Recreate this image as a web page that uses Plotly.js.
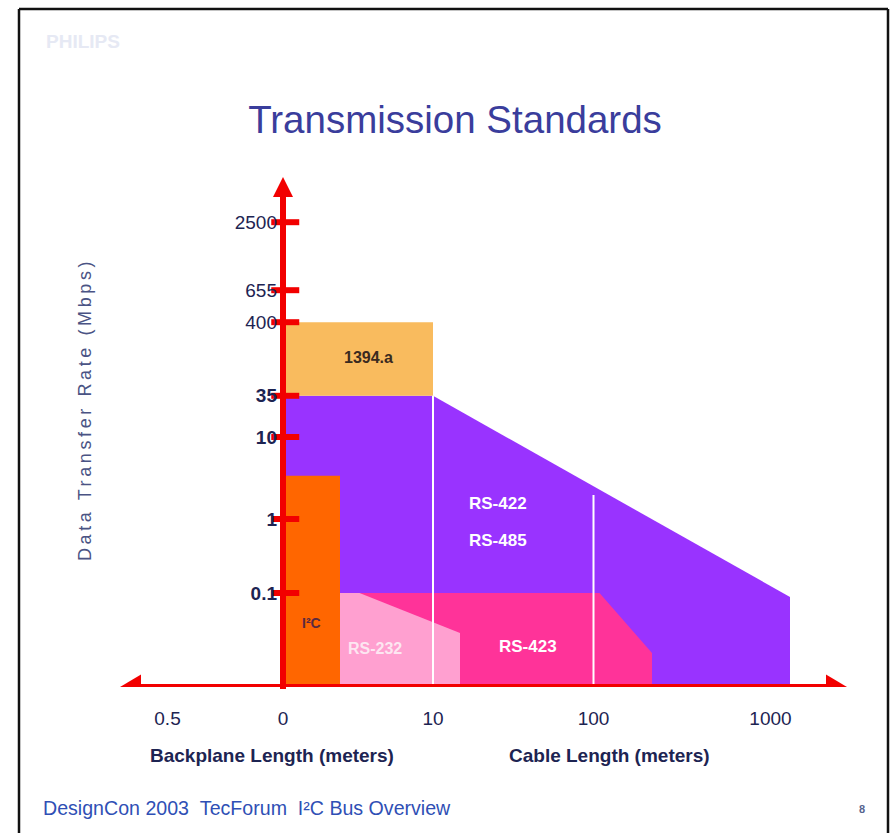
<!DOCTYPE html>
<html>
<head>
<meta charset="utf-8">
<script src="https://cdn.plot.ly/plotly-3.0.1.min.js"></script>
<style>
  html,body{margin:0;padding:0;background:#fff;}
  #chart{width:892px;height:833px;}
  .annotation[data-index="0"] text{letter-spacing:3.6px;}
</style>
</head>
<body>
<div id="chart"></div>
<script>
// ---- Schematic axis scales (position units along each drawn axis) ----
const yTickText = ['<b>0.1</b>', '<b>1</b>', '<b>10</b>', '<b>35</b>', '400', '655', '2500'];
const yTickPos  = [1.175, 2.1, 3.125, 3.64, 4.56, 4.96, 5.81];
const xTickText = ['0.5', '0', '10', '100', '1000'];
const xTickPos  = [-0.77, 0, 1, 2.07, 3.25];

// ---- Regions (schematic units) ----
const rs485X = [0, 0, 1, 3.38, 3.38];
const rs485Y = [0, 3.64, 3.64, 1.125, 0];
const fwX = [0, 0, 1, 1];
const fwY = [3.64, 4.56, 4.56, 3.64];
const rs423X = [0.38, 0.38, 2.11, 2.46, 2.46];
const rs423Y = [0, 1.175, 1.175, 0.425, 0];
const rs232X = [0.38, 0.38, 0.51, 1.18, 1.18];
const rs232Y = [0, 1.175, 1.175, 0.675, 0];
const i2cX = [0, 0, 0.38, 0.38];
const i2cY = [0, 2.64, 2.64, 0];
const dividerX = [1, 2.07];
const dividerTop = [3.64, 2.4];

const regionNames = ['1394.a', 'RS-422', 'RS-485', 'RS-423', 'RS-232', 'I²C'];
const regionLabelX = [0.567, 1.433, 1.433, 1.633, 0.613, 0.187];
const regionLabelY = [4.125, 2.3, 1.8375, 0.5125, 0.4875, 0.8];
const regionLabelColor = ['#3a2a20', '#ffffff', '#ffffff', '#ffffff', '#fde6f1', '#5a2a40'];
const regionLabelSize = [16, 17, 17, 17, 16, 14];

// ---- Layout geometry ----
const L = 120, T = 177, W = 727, H = 510;
const px = x => (x - L) / W;
const py = y => (T + H - y) / H;
const SANS = "'Liberation Sans', Arial, sans-serif";
const RED = '#f20000';
const NAVY = '#1d2452';

function poly(xs, ys, color) {
  return {x: xs.concat([xs[0]]), y: ys.concat([ys[0]]), type: 'scatter', mode: 'lines',
          fill: 'toself', fillcolor: color, line: {width: 0, color: color}, hoverinfo: 'skip'};
}

const traces = [
  poly(rs485X, rs485Y, '#9933ff'),
  poly(fwX, fwY, '#f9bb5e'),
  poly(rs423X, rs423Y, '#ff3399'),
  poly(rs232X, rs232Y, '#ffa0d0'),
  poly(i2cX, i2cY, '#ff6600'),
];
dividerX.forEach((dx, i) => {
  traces.push({x: [dx, dx], y: [0, dividerTop[i]], type: 'scatter', mode: 'lines',
               line: {color: '#ffffff', width: 2}, hoverinfo: 'skip'});
});

const shapes = [
  // axes
  {type: 'line', xref: 'paper', yref: 'y', x0: 0.02, x1: 0.98, y0: 0, y1: 0, line: {color: RED, width: 6}, layer: 'above'},
  {type: 'line', xref: 'x', yref: 'paper', x0: 0, x1: 0, y0: -0.004, y1: 0.97, line: {color: RED, width: 6}, layer: 'above'},
  // arrow heads
  {type: 'path', xref: 'paper', yref: 'y', xsizemode: 'pixel', ysizemode: 'pixel', xanchor: 0, yanchor: 0,
   path: 'M0,0 L21,12.5 L21,-12.5 Z', fillcolor: RED, line: {width: 0}, layer: 'above'},
  {type: 'path', xref: 'paper', yref: 'y', xsizemode: 'pixel', ysizemode: 'pixel', xanchor: 1, yanchor: 0,
   path: 'M0,0 L-21,12.5 L-21,-12.5 Z', fillcolor: RED, line: {width: 0}, layer: 'above'},
  {type: 'path', xref: 'x', yref: 'paper', xsizemode: 'pixel', ysizemode: 'pixel', xanchor: 0, yanchor: 1,
   path: 'M0,0 L-10,-20 L10,-20 Z', fillcolor: RED, line: {width: 0}, layer: 'above'},
  // slide frame
  {type: 'line', xref: 'paper', yref: 'paper', x0: px(19), x1: px(19), y0: py(9), y1: py(840), line: {color: '#111', width: 2.5}},
  {type: 'line', xref: 'paper', yref: 'paper', x0: px(19), x1: px(888), y0: py(9), y1: py(9), line: {color: '#111', width: 2.5}},
  {type: 'line', xref: 'paper', yref: 'paper', x0: px(888), x1: px(888), y0: py(9), y1: py(840), line: {color: '#111', width: 2.5}},
];

// y tick marks crossing the axis
traces.push({x: yTickPos.map(() => 0.015), y: yTickPos, type: 'scatter', mode: 'markers',
  marker: {symbol: 'line-ew', size: 20, line: {width: 6, color: RED}}, hoverinfo: 'skip'});

function note(text, x, y, font, extra) {
  return Object.assign({text: text, xref: 'paper', yref: 'paper', x: px(x), y: py(y),
    xanchor: 'center', yanchor: 'middle', showarrow: false, font: font}, extra || {});
}

const annotations = [
  note('Data Transfer Rate (Mbps)', 85, 410, {family: SANS, size: 18, color: '#4a5384'}, {textangle: -90}),
  note('Backplane Length (meters)', 272, 755, {family: SANS, size: 19, color: NAVY, weight: 'bold'}),
  note('Cable Length (meters)', 609, 755, {family: SANS, size: 19, color: NAVY, weight: 'bold'}),
  note('DesignCon 2003\u00a0\u00a0TecForum\u00a0\u00a0I²C Bus Overview', 41, 808,
       {family: SANS, size: 19.6, color: '#2f4fb5'}, {xanchor: 'left'}),
  note('8', 862, 809, {family: SANS, size: 11, color: '#56648f', weight: 'bold'}),
  note('PHILIPS', 44, 41, {family: SANS, size: 19, color: '#e6e9f4', weight: 'bold'}, {xanchor: 'left'}),
];
regionNames.forEach((n, i) => {
  annotations.push({text: n, x: regionLabelX[i], y: regionLabelY[i], xref: 'x', yref: 'y', showarrow: false,
    xanchor: 'center', yanchor: 'middle',
    font: {family: SANS, size: regionLabelSize[i], color: regionLabelColor[i], weight: 'bold'}});
});

const layout = {
  width: 892, height: 833,
  margin: {l: L, r: 892 - L - W, t: T, b: 833 - T - H, pad: 0},
  paper_bgcolor: '#ffffff', plot_bgcolor: '#ffffff',
  showlegend: false, hovermode: false,
  title: {text: 'Transmission Standards', x: 455 / 892, xanchor: 'center', y: 1 - 120 / 833, yanchor: 'middle',
          yref: 'container', font: {family: SANS, size: 38.5, color: '#3a3d9c'}},
  xaxis: {range: [-163 / 150, 564 / 150], tickvals: xTickPos, ticktext: xTickText, ticks: '',
          showgrid: false, zeroline: false, showline: false, fixedrange: true, ticklabelstandoff: 18,
          tickfont: {family: SANS, size: 19, color: NAVY}},
  yaxis: {range: [0, H / 80], tickvals: yTickPos, ticktext: yTickText, ticks: '', anchor: 'free', position: px(283),
          showgrid: false, zeroline: false, showline: false, fixedrange: true, ticklabelstandoff: 6,
          tickfont: {family: SANS, size: 19, color: NAVY}},
  shapes: shapes,
  annotations: annotations,
};

Plotly.newPlot('chart', traces, layout, {displayModeBar: false, staticPlot: true});
</script>
</body>
</html>
